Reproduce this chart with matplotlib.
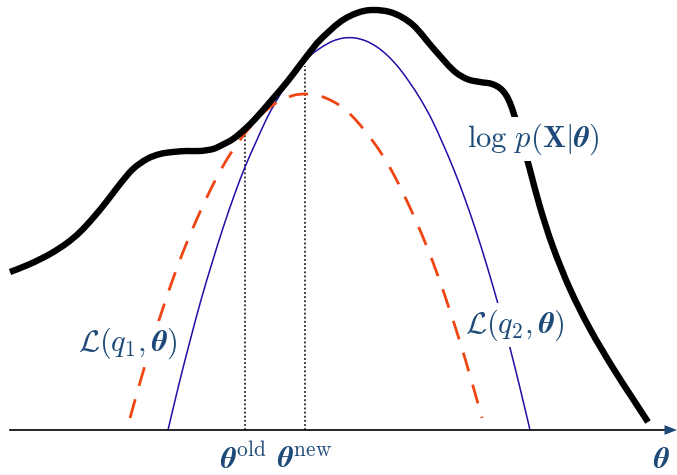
import matplotlib

matplotlib.use('Agg')
import matplotlib.pyplot as plt
from matplotlib.path import Path
from matplotlib.patches import PathPatch

plt.rcParams['mathtext.fontset'] = 'cm'

# horizontal position of theta, vertical = value above the axis
log_theta = [10, 30, 50, 67, 80, 93, 107, 120, 133, 147, 160, 173, 187, 200, 213, 222,
             233, 245, 256, 270, 287, 300, 310, 320, 340, 357, 373, 393, 413, 433, 453,
             467, 480, 492, 502, 510, 520, 530, 540, 553, 570, 590, 613, 633, 648]
log_lik = [158, 166, 176, 187, 198, 212, 229, 246, 261, 271, 276, 278, 279, 279, 281, 285,
           291, 301, 312, 328, 348, 365, 378, 390, 408, 417, 420, 417, 405, 382, 360,
           351, 348, 346, 340, 327, 296, 260, 223, 183, 141, 101, 62, 31, 8]

q1_theta = [130, 141, 152, 163, 174, 185, 196, 207, 218, 229, 240, 251, 262, 273, 284,
            295, 306, 317, 328, 339, 350, 361, 372, 383, 394, 405, 416, 427, 438, 449,
            460, 471, 482]
q1_bound = [12, 51, 88, 122, 154, 183, 209, 233, 255, 274, 290, 304, 316, 325, 331,
            335, 336, 335, 331, 325, 316, 304, 290, 274, 255, 233, 209, 183, 154, 122,
            88, 51, 12]

q2_theta = [168, 179, 190, 201, 212, 223, 234, 245, 256, 267, 278, 289, 300, 311, 322,
            333, 344, 355, 366, 377, 388, 399, 410, 421, 432, 443, 454, 465, 476, 487,
            498, 509, 520, 530]
q2_bound = [0, 46, 89, 130, 167, 202, 234, 263, 288, 312, 332, 349, 363, 375, 383,
            389, 392, 392, 389, 383, 374, 362, 347, 330, 310, 286, 260, 231, 199, 164,
            126, 86, 42, 0]

theta_old = 245
theta_new = 305
old_top = 298
new_top = 364


def smooth_path(xs, ys):
    # Catmull-Rom through the read points, handed to matplotlib as cubic Bezier segments
    pts = list(zip(xs, ys))
    verts = [pts[0]]
    codes = [Path.MOVETO]
    for i in range(len(pts) - 1):
        p0 = pts[max(i - 1, 0)]
        p1 = pts[i]
        p2 = pts[i + 1]
        p3 = pts[min(i + 2, len(pts) - 1)]
        c1 = (p1[0] + (p2[0] - p0[0]) / 6, p1[1] + (p2[1] - p0[1]) / 6)
        c2 = (p2[0] - (p3[0] - p1[0]) / 6, p2[1] - (p3[1] - p1[1]) / 6)
        verts += [c1, c2, p2]
        codes += [Path.CURVE4] * 3
    return Path(verts, codes)


fig = plt.figure(figsize=(6.77, 4.75), dpi=100)
ax = fig.add_axes([0, 0, 1, 1])
ax.set_xlim(0, 677)
ax.set_ylim(-45, 430)
ax.axis('off')

navy = '#1d4a78'

ax.add_patch(PathPatch(smooth_path(log_theta, log_lik), fill=False, edgecolor='black',
                       lw=4.6, capstyle='butt', zorder=3))
ax.add_patch(PathPatch(smooth_path(q2_theta, q2_bound), fill=False, edgecolor='#1e0fa6',
                       lw=1.1, zorder=2))
ax.add_patch(PathPatch(smooth_path(q1_theta, q1_bound), fill=False, edgecolor='#ee4512',
                       lw=2.0, linestyle=(0, (7, 5)), zorder=2))

ax.plot([theta_old, theta_old], [0, old_top], color='black', lw=1.1, dashes=(1.2, 1.5), zorder=1)
ax.plot([theta_new, theta_new], [0, new_top], color='black', lw=1.1, dashes=(1.2, 1.5), zorder=1)

ax.plot([10, 666], [0, 0], color='black', lw=1.2, zorder=4)
ax.annotate('', xy=(677, 0), xytext=(660, 0),
            arrowprops=dict(arrowstyle='-|>,head_length=0.9,head_width=0.35',
                            color=navy, lw=0, shrinkA=0, shrinkB=0), zorder=5)

fs = 22
box = dict(facecolor='white', edgecolor='none', pad=3)
ax.text(533, 291, r'$\log\,p(\mathbf{X}|\mathbfit{\theta})$', color=navy, fontsize=fs,
        ha='center', va='center', bbox=box, zorder=6)
ax.text(128, 87, r'$\mathcal{L}(q_1,\mathbfit{\theta})$', color=navy, fontsize=fs,
        ha='center', va='center', bbox=box, zorder=6)
ax.text(515, 105, r'$\mathcal{L}(q_2,\mathbfit{\theta})$', color=navy, fontsize=fs,
        ha='center', va='center', bbox=box, zorder=6)
ax.text(theta_old - 2, -29, r'$\mathbfit{\theta}^{\mathrm{old}}$', color=navy, fontsize=fs,
        ha='center', va='center', zorder=6)
ax.text(theta_new, -29, r'$\mathbfit{\theta}^{\mathrm{new}}$', color=navy, fontsize=fs,
        ha='center', va='center', zorder=6)
ax.text(661, -29, r'$\mathbfit{\theta}$', color=navy, fontsize=fs,
        ha='center', va='center', zorder=6)

fig.savefig('out.png', dpi=100)
